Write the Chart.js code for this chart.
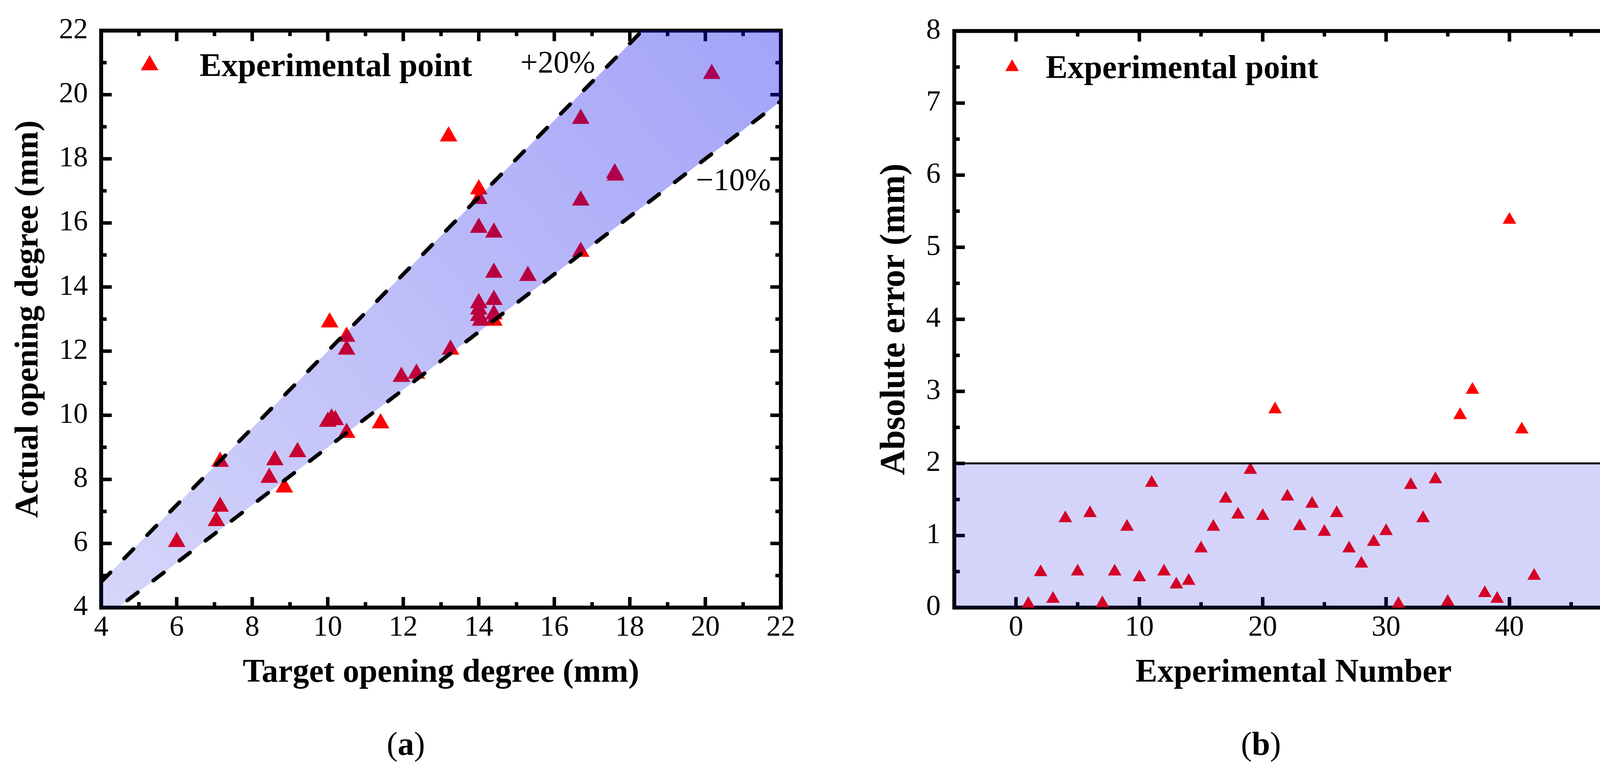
<!DOCTYPE html>
<html>
<head>
<meta charset="utf-8">
<script src="https://cdn.jsdelivr.net/npm/chart.js@4.4.1/dist/chart.umd.min.js"></script>
<style>
    body { margin: 0; width: 4259px; height: 1995px; background: #fff; position: relative; overflow: hidden; font-family: "Liberation Serif", serif; }
    canvas { position: absolute; top: 0; }
    #chartA { left: 0; }
    #chartB { left: 2150px; }
    .cap { position: absolute; top: 1863px; width: 200px; font-size: 84px; line-height: 1; text-align: center; color: #000; }
</style>
</head>
<body>
<canvas id="chartA" width="2080" height="1850"></canvas>
<canvas id="chartB" width="2109" height="1850"></canvas>
<div class="cap" style="left:939px">(<b>a</b>)</div>
<div class="cap" style="left:3128px">(<b>b</b>)</div>
<script>
// --------- (a) Ouverture cible / ouverture réelle ----------
const targetOpening = [6.0, 7.05, 7.15, 7.15, 8.45, 8.6, 8.85, 9.2, 10.0, 10.1, 10.2, 10.5, 11.4,
    10.05, 10.5, 10.5, 11.95, 12.35, 13.25, 13.2, 14.0, 14.0, 14.0, 14.0, 14.0, 14.0, 14.05,
    14.4, 14.4, 14.4, 14.4, 14.4, 15.3, 16.7, 16.7, 16.7, 17.6, 17.62, 20.17];
const actualOpening = [6.05, 6.7, 7.15, 8.55, 8.05, 8.6, 7.75, 8.85, 9.8, 9.9, 9.85, 9.45, 9.75,
    12.9, 12.45, 12.05, 11.2, 11.3, 12.05, 18.7, 17.05, 16.75, 15.85, 13.5, 13.3, 13.1, 12.95,
    15.7, 14.45, 13.6, 13.15, 12.95, 14.35, 19.25, 16.7, 15.1, 17.55, 17.48, 20.65];
const bandX = [4, 22];
const upperLimit = [4.8, 26.4];   // +20 %
const lowerLimit = [3.6, 19.8];   // -10 %
const ticksA = [4, 6, 8, 10, 12, 14, 16, 18, 20, 22];
const minorA = [5, 7, 9, 11, 13, 15, 17, 19, 21];

// --------- (b) Erreur absolue par essai ----------
const expNumber = [1, 2, 3, 4, 5, 6, 7, 8, 9, 10, 11, 12, 13, 14, 15, 16, 17, 18, 19, 20, 21,
    22, 23, 24, 25, 26, 27, 28, 29, 30, 31, 32, 33, 34, 35, 36, 37, 38, 39, 40, 41, 42];
const absError = [0.05, 0.49, 0.12, 1.24, 0.50, 1.31, 0.06, 0.50, 1.12, 0.42, 1.73, 0.50, 0.32,
    0.37, 0.82, 1.12, 1.51, 1.29, 1.91, 1.27, 2.75, 1.54, 1.13, 1.44, 1.05, 1.31, 0.82, 0.61,
    0.91, 1.06, 0.05, 1.70, 1.24, 1.78, 0.08, 2.67, 3.02, 0.20, 0.12, 5.38, 2.47, 0.44];
const limitX = [-5, 50];
const limitY = [2, 2];
const ticksBx = [0, 10, 20, 30, 40, 50];
const ticksBy = [0, 1, 2, 3, 4, 5, 6, 7, 8];
const minorBx = [5, 15, 25, 35, 45];
const minorBy = [0.5, 1.5, 2.5, 3.5, 4.5, 5.5, 6.5, 7.5];

const FONT = "Liberation Serif";
const toPoints = (xs, ys) => xs.map((x, i) => ({ x: x, y: ys[i] }));

// --------- Cadre + graduations intérieures ----------
const framePlugin = {
    id: "frame",
    beforeDatasetsDraw(chart, args, opts) {
        const { ctx, chartArea: a, scales: { x, y } } = chart;
        ctx.save();
        ctx.strokeStyle = "#000";
        ctx.lineWidth = 10;
        ctx.strokeRect(a.left, a.top, a.right - a.left, a.bottom - a.top);
        ctx.lineWidth = 9;
        ctx.beginPath();
        const drawX = (vals, len) => vals.forEach(v => {
            const px = x.getPixelForValue(v);
            if (px <= a.left + 2 || px >= a.right - 2) return;
            ctx.moveTo(px, a.bottom); ctx.lineTo(px, a.bottom - len);
            ctx.moveTo(px, a.top); ctx.lineTo(px, a.top + len);
        });
        const drawY = (vals, len) => vals.forEach(v => {
            const py = y.getPixelForValue(v);
            if (py <= a.top + 2 || py >= a.bottom - 2) return;
            ctx.moveTo(a.left, py); ctx.lineTo(a.left + len, py);
            ctx.moveTo(a.right, py); ctx.lineTo(a.right - len, py);
        });
        drawX(opts.majorX, 27); drawX(opts.minorX, 14);
        drawY(opts.majorY, 27); drawY(opts.minorY, 14);
        ctx.stroke();
        ctx.restore();
    }
};

// --------- Légende + annotations ----------
const notePlugin = {
    id: "notes",
    afterDraw(chart, args, opts) {
        const { ctx, scales: { x, y } } = chart;
        ctx.save();
        ctx.fillStyle = "#ff0000";
        Chart.helpers.drawPoint(ctx, { pointStyle: "triangle", radius: opts.legend.r, borderWidth: 0, rotation: 0 },
            opts.legend.x, opts.legend.y);
        ctx.fillStyle = "#000";
        ctx.textBaseline = "middle";
        ctx.textAlign = "left";
        ctx.font = "bold 84px '" + FONT + "'";
        ctx.fillText("Experimental point", opts.legend.textX, opts.legend.y + 6);
        ctx.font = "80px '" + FONT + "'";
        (opts.labels || []).forEach(l => {
            ctx.fillText(l.text, x.getPixelForValue(l.x), y.getPixelForValue(l.y));
        });
        ctx.restore();
    }
};

function linearAxis(min, max, ticks, title, size, titleSize, titlePad, tickPad) {
    return {
        type: "linear",
        min: min,
        max: max,
        afterBuildTicks: s => { s.ticks = ticks.map(v => ({ value: v })); },
        afterFit: s => { if (s.isHorizontal()) s.height = 230; else s.width = size; },
        grid: { display: false, drawTicks: false },
        border: { display: false },
        ticks: { color: "#000", font: { family: FONT, size: 74 }, padding: tickPad, autoSkip: false, maxRotation: 0 },
        title: {
            display: true, text: title, color: "#000",
            font: { family: FONT, size: titleSize, weight: "bold", lineHeight: 1.2 },
            padding: titlePad
        }
    };
}

const dashed = { showLine: true, pointRadius: 0, borderColor: "#000", borderWidth: 10,
    borderDash: [34, 50], borderCapStyle: "round" };

// --------- Graphique (a) ----------
new Chart(document.getElementById("chartA"), {
    type: "scatter",
    data: {
        datasets: [
            Object.assign({ data: toPoints(bandX, upperLimit), fill: false, order: 0 }, dashed),
            Object.assign({
                data: toPoints(bandX, lowerLimit), fill: "-1", order: 1,
                backgroundColor: ctx => {
                    const a = ctx.chart.chartArea;
                    if (!a) return "rgba(0,0,230,0.2)";
                    const g = ctx.chart.ctx.createLinearGradient(a.left, a.bottom, a.right, a.top);
                    g.addColorStop(0, "rgba(0,0,225,0.16)");
                    g.addColorStop(1, "rgba(0,0,240,0.36)");
                    return g;
                }
            }, dashed),
            {
                data: toPoints(targetOpening, actualOpening),
                pointStyle: "triangle", pointRadius: 26, pointBorderWidth: 0,
                pointBackgroundColor: "#ff0000", order: 2
            }
        ]
    },
    options: {
        responsive: false, animation: false, devicePixelRatio: 1, events: [],
        layout: { padding: { top: 65, left: 0, right: 81, bottom: 64 } },
        scales: {
            x: linearAxis(4, 22, ticksA, "Target opening degree (mm)", 0, 84, { top: 0, bottom: 11 }, 8),
            y: linearAxis(4, 22, ticksA, "Actual opening degree (mm)", 259, 84, { top: 24, bottom: 0 }, 34)
        },
        plugins: {
            legend: { display: false }, tooltip: { enabled: false },
            frame: { majorX: ticksA, minorX: minorA, majorY: ticksA, minorY: minorA },
            notes: {
                legend: { x: 383, y: 167, r: 26, textX: 511 },
                labels: [{ x: 15.1, y: 20.94, text: "+20%" }, { x: 19.75, y: 17.28, text: "\u221210%" }]
            }
        }
    },
    plugins: [framePlugin, notePlugin]
});

// --------- Graphique (b) ----------
new Chart(document.getElementById("chartB"), {
    type: "scatter",
    data: {
        datasets: [
            {
                data: toPoints(limitX, limitY),
                showLine: true, pointRadius: 0, borderColor: "#000", borderWidth: 5,
                fill: "start", backgroundColor: "rgba(0,0,230,0.17)", order: 0
            },
            {
                data: toPoints(expNumber, absError),
                pointStyle: "triangle", pointRadius: 20, pointBorderWidth: 0,
                pointBackgroundColor: "#ff0000", order: 1
            }
        ]
    },
    options: {
        responsive: false, animation: false, devicePixelRatio: 1, events: [],
        layout: { padding: { top: 65, left: 0, right: 79, bottom: 64 } },
        scales: {
            x: linearAxis(-5, 50, ticksBx, "Experimental Number", 0, 84, { top: 0, bottom: 11 }, 8),
            y: linearAxis(0, 8, ticksBy, "Absolute error (mm)", 293, 90, { top: 88, bottom: 0 }, 35)
        },
        plugins: {
            legend: { display: false }, tooltip: { enabled: false },
            frame: { majorX: ticksBx, minorX: minorBx, majorY: ticksBy, minorY: minorBy },
            notes: { legend: { x: 441, y: 172, r: 20, textX: 527 } }
        }
    },
    plugins: [framePlugin, notePlugin]
});
</script>
</body>
</html>
